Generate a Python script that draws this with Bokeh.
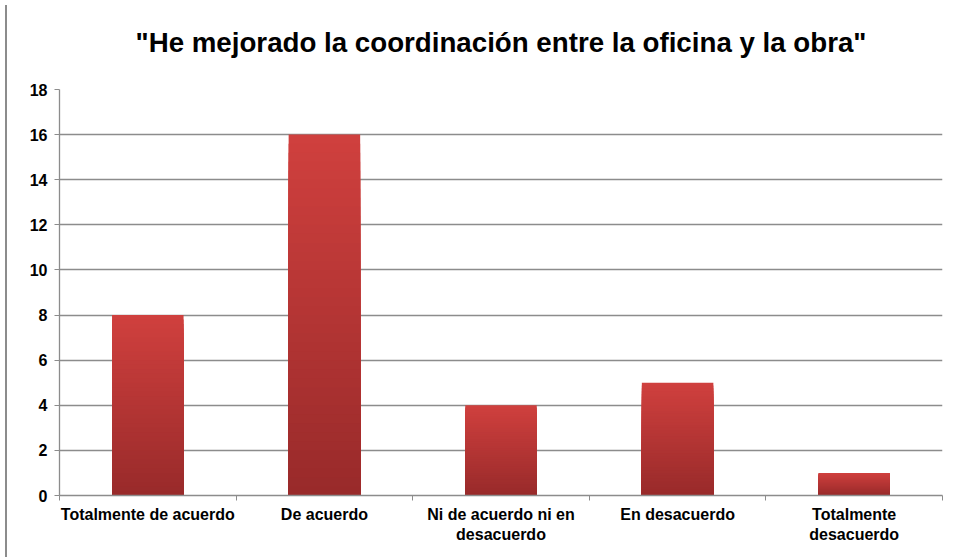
from bokeh.plotting import figure
from bokeh.models import FixedTicker, Div, Title
from bokeh.layouts import row
from bokeh.embed import file_html
from bokeh.resources import INLINE

categories = ["Totalmente de acuerdo", "De acuerdo", "Ni de acuerdo ni en\ndesacuerdo",
              "En desacuerdo", "Totalmente\ndesacuerdo"]
values = [8, 16, 4, 5, 1]
y_ticks = [0, 2, 4, 6, 8, 10, 12, 14, 16, 18]
title_text = '"He mejorado la coordinación entre la oficina y la obra"'

FONT = "Liberation Sans"
GRID = "#8c8c8c"

p = figure(width=941, height=548, x_range=(0, len(categories)), y_range=(0, 18),
           output_backend="svg", toolbar_location=None,
           min_border_left=47, min_border_right=11, min_border_bottom=53, min_border_top=89)
p.outline_line_color = None
p.background_fill_color = "white"

spacer = Title(text=" ", text_font_size="13px")
p.add_layout(spacer, "above")
t = Title(text=title_text, align="center", text_font=FONT, text_font_size="27.7px",
          text_font_style="bold", text_color="black")
p.add_layout(t, "above")

# gradient bars: nested bars drawn from full height down, light (top) to dark (bottom)
top_c = (0xD0, 0x40, 0x3E)
bot_c = (0x98, 0x2A, 0x2A)
N = 40
xs = [i + 0.5 for i in range(len(categories))]
for k in range(N - 1, -1, -1):
    f1 = (k + 1) / N
    fm = (k + 0.5) / N
    c = tuple(int(round(bot_c[j] + (top_c[j] - bot_c[j]) * fm)) for j in range(3))
    col = "#%02x%02x%02x" % c
    p.vbar(x=xs, width=0.405, bottom=0, top=[v * f1 for v in values],
           fill_color=col, line_color=None)

p.xgrid.visible = False
p.ygrid.ticker = FixedTicker(ticks=y_ticks)
p.ygrid.grid_line_color = GRID
p.ygrid.grid_line_width = 1.3

p.yaxis.ticker = FixedTicker(ticks=y_ticks)
p.yaxis.axis_line_color = GRID
p.yaxis.axis_line_width = 1.3
p.yaxis.major_tick_line_color = GRID
p.yaxis.major_tick_out = 5
p.yaxis.major_tick_in = 0
p.yaxis.minor_tick_line_color = None
p.yaxis.major_label_text_font = FONT
p.yaxis.major_label_text_font_size = "16px"
p.yaxis.major_label_text_font_style = "bold"
p.yaxis.major_label_text_color = "black"
p.yaxis.major_label_standoff = 7

p.xaxis.ticker = FixedTicker(ticks=xs, minor_ticks=list(range(len(categories) + 1)))
p.xaxis.major_label_overrides = {x: c for x, c in zip(xs, categories)}
p.xaxis.axis_line_color = GRID
p.xaxis.axis_line_width = 1.3
p.xaxis.major_tick_line_color = None
p.xaxis.minor_tick_line_color = GRID
p.xaxis.minor_tick_out = 5
p.xaxis.minor_tick_in = 0
p.xaxis.major_label_text_font = FONT
p.xaxis.major_label_text_font_size = "16px"
p.xaxis.major_label_text_font_style = "bold"
p.xaxis.major_label_text_color = "black"
p.xaxis.major_label_standoff = 4

bar = Div(width=2, height=557, styles={"background-color": "#8c8c8c"})
layout = row(bar, p, spacing=0)

open("out.html", "w").write(file_html(layout, INLINE))
